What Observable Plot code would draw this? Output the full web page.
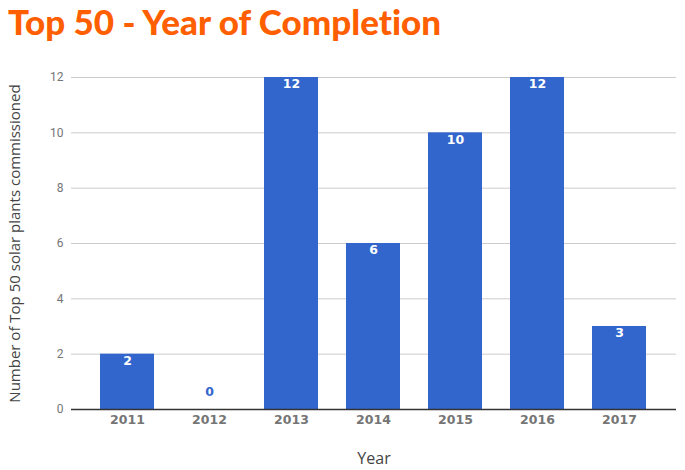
<!DOCTYPE html>
<html>
<head>
<meta charset="utf-8">
<script src="https://cdn.jsdelivr.net/npm/d3@7"></script>
<script src="https://cdn.jsdelivr.net/npm/@observablehq/plot@0.6"></script>
<style>
  html, body { margin: 0; padding: 0; background: #fff; }
  #title { height: 46px; padding: 4px 0 0 8px; font-family: Lato, sans-serif; font-weight: 900; font-size: 35px; line-height: 1; color: #ff5f00; white-space: nowrap; font-variant-ligatures: none; }
  #chart svg { display: block; }
</style>
</head>
<body>
<div id="title">Top 50 - Year of Completion</div>
<div id="chart"></div>
<script>
const years = ["2011", "2012", "2013", "2014", "2015", "2016", "2017"];
const counts = [2, 0, 12, 6, 10, 12, 3];
const yTicks = [0, 2, 4, 6, 8, 10, 12];
const xTitle = "Year";
const yTitle = "Number of Top 50 solar plants commissioned";

const data = years.map((year, i) => ({year, count: counts[i]}));

const chart = Plot.plot({
  width: 685,
  height: 420,
  marginTop: 27,
  marginBottom: 61,
  marginLeft: 71,
  marginRight: 9,
  style: {background: "#fff"},
  x: {domain: years, padding: 0.34},
  y: {domain: [0, 12]},
  marks: [
    Plot.gridY(yTicks.filter(d => d > 0), {stroke: "#cccccc", strokeOpacity: 1}),
    Plot.barY(data, {x: "year", y: "count", fill: "#3366cc"}),
    Plot.ruleY([0], {stroke: "#333333", strokeWidth: 1.5}),
    Plot.axisY(yTicks, {tickSize: 0, tickPadding: 8, label: null, fontFamily: "Roboto, sans-serif", fontSize: 12, fill: "#757575"}),
    Plot.axisX({tickSize: 0, tickPadding: 6, label: null, fontFamily: "DejaVu Sans, sans-serif", fontSize: 12.5, fontWeight: "bold", fill: "#757575"}),
    Plot.text(data.filter(d => d.count > 0), {x: "year", y: "count", text: d => String(d.count), lineAnchor: "top", dy: 2, fill: "#ffffff", fontFamily: "DejaVu Sans, sans-serif", fontSize: 12.5, fontWeight: "bold"}),
    Plot.text(data.filter(d => d.count === 0), {x: "year", y: "count", text: d => String(d.count), lineAnchor: "bottom", dy: -14, fill: "#3366cc", fontFamily: "DejaVu Sans, sans-serif", fontSize: 12.5, fontWeight: "bold"}),
    Plot.text([yTitle], {frameAnchor: "left", textAnchor: "middle", dx: -56, rotate: -90, fill: "#444444", fontFamily: "Open Sans, sans-serif", fontSize: 15}),
    Plot.text([xTitle], {frameAnchor: "bottom", dy: 54, fill: "#444444", fontFamily: "Open Sans, sans-serif", fontSize: 16})
  ]
});
document.getElementById("chart").appendChild(chart);
</script>
</body>
</html>
